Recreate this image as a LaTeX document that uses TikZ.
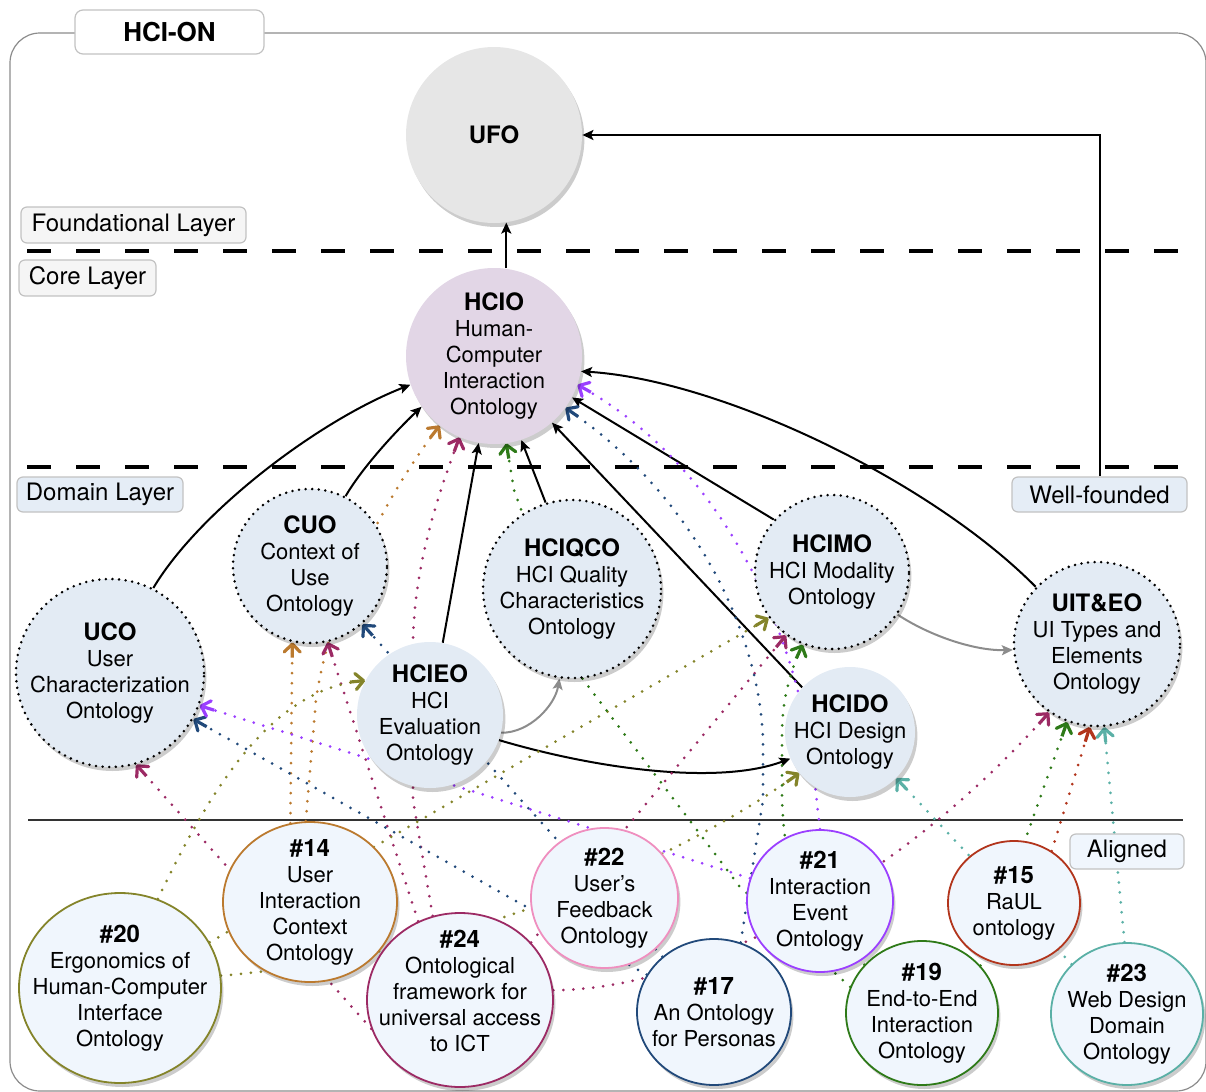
\documentclass[tikz,border=0pt]{standalone}
\usepackage{fontspec}
\setmainfont{TeX Gyre Heros}
\usetikzlibrary{arrows.meta,shapes.geometric,shadows}

\definecolor{cOlive}{HTML}{84842A}
\definecolor{cOrange}{HTML}{BB7A2F}
\definecolor{cMaroon}{HTML}{9C2A64}
\definecolor{cPink}{HTML}{EF8FBF}
\definecolor{cBlue}{HTML}{21497A}
\definecolor{cViolet}{HTML}{9B3FFF}
\definecolor{cGreen}{HTML}{2E7A18}
\definecolor{cRed}{HTML}{B2351C}
\definecolor{cTeal}{HTML}{5AB0A6}
\definecolor{ufoFill}{HTML}{E6E6E6}
\definecolor{hcioFill}{HTML}{E2D6E6}
\definecolor{domFill}{HTML}{E3EBF4}
\definecolor{alFill}{HTML}{F0F6FD}
\definecolor{lblGray}{HTML}{F5F5F5}
\definecolor{lblBlue}{HTML}{E5EDF6}
\definecolor{lblLine}{HTML}{C2C2C2}

\pgfdeclarelayer{frame}
\pgfdeclarelayer{links}
\pgfsetlayers{frame,links,main}

\newcommand\nt[1]{{\fontsize{12}{13}\selectfont\bfseries #1}}

\tikzset{
  base/.style={ellipse, inner sep=-12pt, align=center,
    font=\fontsize{11}{13}\selectfont,
    drop shadow={shadow xshift=1.2pt, shadow yshift=-2pt, fill=black, opacity=0.2}},
  core/.style={base, fill=#1},
  dombox/.style={base, fill=domFill, draw=black, line width=1.4pt,
    dash pattern=on 0pt off 3.3pt, line cap=round},
  domplain/.style={base, fill=domFill},
  aligned/.style={base, fill=alFill, draw=#1, line width=0.9pt},
  layerlbl/.style={rounded corners=3pt, draw=lblLine, line width=0.6pt, fill=#1,
    inner sep=0pt, font=\fontsize{12}{14}\selectfont},
  link/.style={line width=1pt, -{Stealth[length=5.5pt,width=5pt,inset=1.2pt]}},
  glink/.style={link, draw=black!45},
  dots/.style={draw=#1, line width=1.5pt, dash pattern=on 0pt off 5pt, line cap=round,
    -{Rectangle[length=6pt,width=1.6pt,sep=-4pt] Straight Barb[length=4pt,width=8pt,line width=1.6pt,round]}},
}

\begin{document}
\begin{tikzpicture}[x=0.5pt,y=-0.5pt]
\useasboundingbox (0,0) rectangle (1206,1092);

% outer frame, layer separators
\begin{pgfonlayer}{frame}
  \draw[draw=black!45, line width=0.6pt, rounded corners=15pt] (10,33) rectangle (1206,1091);
  \draw[line width=2pt, dash pattern=on 12pt off 12.5pt] (27,251) -- (1179,251);
  \draw[line width=2pt, dash pattern=on 12pt off 12.5pt] (27,467) -- (1179,467);
  \draw[line width=0.8pt, black!80] (28,820) -- (1183,820);
\end{pgfonlayer}

% title and layer labels
\node[fill=white, draw=lblLine, line width=0.6pt, rounded corners=4pt, inner sep=0pt,
      minimum width=94.5pt, minimum height=22pt,
      font=\bfseries\fontsize{13}{15}\selectfont] (title) at (169.5,32) {HCI-ON};
\node[layerlbl=lblGray, minimum width=112.5pt, minimum height=18pt] (lfound) at (133.5,225) {Foundational Layer};
\node[layerlbl=lblGray, minimum width=68.5pt, minimum height=18pt] (lcore) at (87.5,278) {Core Layer};
\node[layerlbl=lblBlue, minimum width=83pt, minimum height=17.5pt] (ldomain) at (100,494.5) {Domain Layer};
\node[layerlbl=lblBlue, minimum width=87.5pt, minimum height=17.5pt] (wf) at (1099.5,494.5) {Well-founded};
\node[layerlbl=alFill, minimum width=57pt, minimum height=17.5pt] (laligned) at (1127,851.5) {Aligned};

% foundational and core ontologies
\node[core=ufoFill, minimum width=88pt, minimum height=88pt] (ufo) at (494,135) {\nt{UFO}};
\node[core=hcioFill, minimum width=88pt, minimum height=88pt] (hcio) at (494,356)
  {\nt{HCIO}\\Human-\\Computer\\Interaction\\Ontology};

% domain ontologies
\node[dombox, minimum width=94pt, minimum height=94pt] (uco) at (110,673)
  {\nt{UCO}\\User\\Characterization\\Ontology};
\node[dombox, minimum width=77pt, minimum height=77pt] (cuo) at (310,566)
  {\nt{CUO}\\Context of\\Use\\Ontology};
\node[domplain, minimum width=73pt, minimum height=73pt] (hcieo) at (430,715)
  {\nt{HCIEO}\\HCI\\Evaluation\\Ontology};
\node[dombox, minimum width=89pt, minimum height=89pt] (hciqco) at (572,589)
  {\nt{HCIQCO}\\HCI Quality\\Characteristics\\Ontology};
\node[dombox, minimum width=77pt, minimum height=77pt] (hcimo) at (832,572)
  {\nt{HCIMO}\\HCI Modality\\Ontology};
\node[domplain, minimum width=65pt, minimum height=65pt] (hcido) at (850,732)
  {\nt{HCIDO}\\HCI Design\\Ontology};
\node[dombox, minimum width=83pt, minimum height=82pt] (uiteo) at (1097,644)
  {\nt{UIT\&EO}\\UI Types and\\Elements\\Ontology};

% aligned ontologies
\node[aligned=cOlive, minimum width=101pt, minimum height=95pt] (n20) at (120,988)
  {\nt{\#20}\\Ergonomics of\\Human-Computer\\Interface\\Ontology};
\node[aligned=cOrange, minimum width=87pt, minimum height=80pt] (n14) at (310,902)
  {\nt{\#14}\\User\\Interaction\\Context\\Ontology};
\node[aligned=cMaroon, minimum width=93pt, minimum height=87pt] (n24) at (460,1000)
  {\nt{\#24}\\Ontological\\framework for\\universal access\\to ICT\\[-4pt]};
\node[aligned=cPink, minimum width=73.5pt, minimum height=70pt] (n22) at (604.5,898)
  {\nt{\#22}\\User’s\\Feedback\\Ontology};
\node[aligned=cBlue, minimum width=77pt, minimum height=73pt] (n17) at (714,1012)
  {\nt{\#17}\\An Ontology\\for Personas};
\node[aligned=cViolet, minimum width=73pt, minimum height=71pt] (n21) at (820,901)
  {\nt{\#21}\\Interaction\\Event\\Ontology};
\node[aligned=cGreen, minimum width=76pt, minimum height=72pt] (n19) at (922,1013)
  {\nt{\#19}\\End-to-End\\Interaction\\Ontology};
\node[aligned=cRed, minimum width=66pt, minimum height=62pt] (n15) at (1014,903)
  {\nt{\#15}\\RaUL\\ontology};
\node[aligned=cTeal, minimum width=76pt, minimum height=71pt] (n23) at (1127,1014)
  {\nt{\#23}\\Web Design\\Domain\\Ontology};

\begin{pgfonlayer}{links}
  % specialisation links
  \draw[link] (uco.63) .. controls (200,510) and (320,420) .. (hcio.199);
  \draw[link] (cuo.63) .. controls (362,468) and (395,432) .. (hcio.215);
  \draw[link] (hcieo.80) -- (hcio.260);
  \draw[link] (hciqco.107) -- (hcio.288);
  \draw[link] (hcido.137) -- (hcio.311);
  \draw[link] (hcimo.138) -- (hcio.332);
  \draw[link] (uiteo.137) .. controls (930,480) and (720,380) .. (hcio.350);
  \draw[link] (hcieo.340) .. controls (600,770) and (720,785) .. (hcido.204);
  \draw[link] (hcio.82) -- (ufo.278);
  \draw[link] (wf.north) |- (ufo.east);
  \draw[glink] (hcieo.346) .. controls (530,733) and (555,705) .. (hciqco.262);
  \draw[glink] (hcimo.327) .. controls (930,636) and (975,651) .. (uiteo.184);

  % alignments
  \draw[dots=cOrange] (n14.104) -- (cuo.257);
  \draw[dots=cOrange] (n14.93) -- (316,700) .. controls (330,600) and (390,490) .. (hcio.232);

  \draw[dots=cMaroon] (n24.198) -- (uco.286);
  \draw[dots=cMaroon] (n24.118) -- (cuo.283);
  \draw[dots=cMaroon] (n24.108) -- (413,800) -- (413,640) .. controls (415,560) and (440,490) .. (hcio.247);
  \draw[dots=cMaroon] (n24.39) -- (hcimo.234);
  \draw[dots=cMaroon] (n24.6) .. controls (700,990) and (900,880) .. (uiteo.235);

  \draw[dots=cOlive] (n20.67) .. controls (210,790) and (270,690) .. (hcieo.152);
  \draw[dots=cOlive] (n20.27) -- (hcimo.216);
  \draw[dots=cOlive] (n20.7) .. controls (420,960) and (650,880) .. (hcido.219);

  \draw[dots=cBlue] (n17.151) -- (uco.331);
  \draw[dots=cBlue] (n17.133) -- (cuo.312);
  \draw[dots=cBlue] (n17.69) -- (763,800) -- (763,740) .. controls (760,640) and (700,500) .. (hcio.324);

  \draw[dots=cViolet] (n21.162) -- (uco.340);
  \draw[dots=cViolet] (n21.90) -- (812,760) .. controls (795,640) and (730,470) .. (hcio.341);

  \draw[dots=cGreen] (n19.160) -- (740,887) -- (582,678) -- (514,490) -- (hcio.278);
  \draw[dots=cGreen] (n19.140) .. controls (800,940) and (782,860) .. (782,790) -- (782,735)
        .. controls (782,700) and (790,672) .. (hcimo.248);
  \draw[dots=cGreen] (n19.39) -- (uiteo.249);

  \draw[dots=cRed] (n15.54) -- (uiteo.265);

  \draw[dots=cTeal] (n23.92) -- (uiteo.275);
  \draw[dots=cTeal] (n23.138) -- (hcido.315);
\end{pgfonlayer}
\end{tikzpicture}
\end{document}
